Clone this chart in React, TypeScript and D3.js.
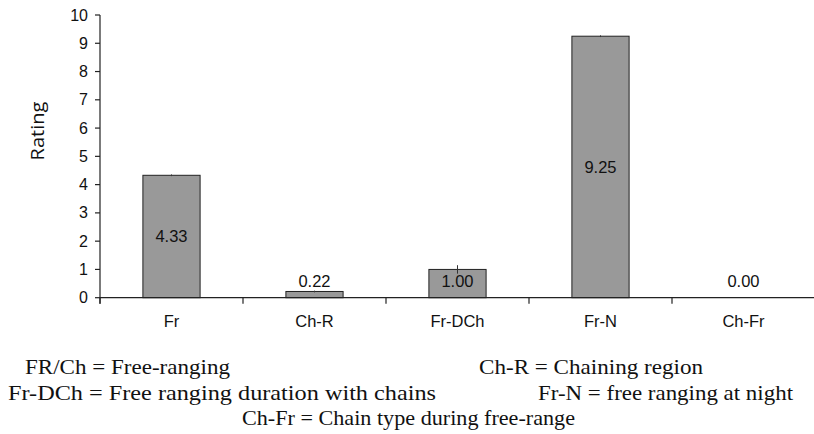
import React from "react";
import * as d3 from "d3";

const categories = ["Fr", "Ch-R", "Fr-DCh", "Fr-N", "Ch-Fr"];
const values = [4.33, 0.22, 1.0, 9.25, 0.0];
const errors = [0.03, 0.03, 0.15, 0.03, 0.02];
const valueLabels = ["4.33", "0.22", "1.00", "9.25", "0.00"];
const yTicks = [0, 1, 2, 3, 4, 5, 6, 7, 8, 9, 10];
const yAxisTitle = "Rating";
const notes = [
  { text: "FR/Ch = Free-ranging", x: 25, w: 205, row: 0 },
  { text: "Ch-R = Chaining region", x: 479, w: 224, row: 0 },
  { text: "Fr-DCh = Free ranging duration with chains", x: 8, w: 428, row: 1 },
  { text: "Fr-N = free ranging at night", x: 538, w: 255, row: 1 },
  { text: "Ch-Fr = Chain type during free-range", x: 242, w: 333, row: 2 },
];

const W = 814;
const H = 434;
const x0 = 100;
const x1 = 815;
const yBase = 297.7;
const yTop = 15;

export default function App() {
  const x = d3.scaleBand<string>().domain(categories).range([x0, x1]).padding(0);
  const y = d3.scaleLinear().domain([0, 10]).range([yBase, yTop]);
  const bw = x.bandwidth() * 0.4;
  const sans = "'Liberation Sans', Arial, sans-serif";
  const serif = "'Liberation Serif', 'Times New Roman', serif";
  const boundaries = categories.map((c) => x(c) as number);

  return (
    <svg
      width={W}
      height={H}
      style={{ position: "absolute", left: 0, top: 0, background: "#fff" }}
    >
      {/* bars */}
      {categories.map((c, i) => {
        const cx = (x(c) as number) + x.bandwidth() / 2;
        const yv = y(values[i]);
        return (
          <g key={c}>
            {values[i] > 0 && (
              <rect
                x={cx - bw / 2}
                y={yv}
                width={bw}
                height={yBase - yv}
                fill="#999999"
                stroke="#222"
                strokeWidth={1}
              />
            )}
            <line
              x1={cx}
              x2={cx}
              y1={y(values[i] + errors[i])}
              y2={y(Math.max(0, values[i] - errors[i]))}
              stroke="#333"
              strokeWidth={1}
            />
          </g>
        );
      })}
      {/* data labels */}
      {categories.map((c, i) => {
        const cx = (x(c) as number) + x.bandwidth() / 2;
        const mid = (y(values[i]) + yBase) / 2;
        const ly = Math.min(mid, y(0.6));
        return (
          <text
            key={"l" + c}
            x={cx}
            y={ly}
            dy="0.35em"
            textAnchor="middle"
            fontFamily={sans}
            fontSize={16.5}
            fill="#111"
          >
            {valueLabels[i]}
          </text>
        );
      })}
      {/* y axis */}
      <line x1={x0} x2={x0} y1={yTop} y2={yBase + 6} stroke="#222" strokeWidth={1.2} />
      {yTicks.map((t) => (
        <g key={"yt" + t}>
          <line x1={x0 - 5} x2={x0} y1={y(t)} y2={y(t)} stroke="#222" strokeWidth={1.2} />
          <text
            x={x0 - 12}
            y={y(t)}
            dy="0.35em"
            textAnchor="end"
            fontFamily={sans}
            fontSize={16}
            fill="#111"
          >
            {t}
          </text>
        </g>
      ))}
      {/* x axis */}
      <line x1={x0} x2={x1} y1={yBase} y2={yBase} stroke="#222" strokeWidth={1.2} />
      {boundaries.map((b, i) => (
        <line key={"xt" + i} x1={b} x2={b} y1={yBase} y2={yBase + 6} stroke="#222" strokeWidth={1.2} />
      ))}
      {categories.map((c) => (
        <text
          key={"xl" + c}
          x={(x(c) as number) + x.bandwidth() / 2}
          y={327}
          textAnchor="middle"
          fontFamily={sans}
          fontSize={16.5}
          fill="#111"
        >
          {c}
        </text>
      ))}
      {/* y title */}
      <text
        transform={`translate(44,131) rotate(-90)`}
        textAnchor="middle"
        fontFamily="'Open Sans', 'Noto Sans', sans-serif"
        fontSize={18}
        fill="#111"
        textLength={59}
        lengthAdjust="spacingAndGlyphs"
      >
        {yAxisTitle}
      </text>
      {/* notes */}
      {notes.map((n) => (
        <text
          key={n.text}
          x={n.x}
          y={374 + n.row * 25.5}
          fontFamily={serif}
          fontSize={22}
          fill="#111"
          textLength={n.w}
          lengthAdjust="spacingAndGlyphs"
        >
          {n.text}
        </text>
      ))}
    </svg>
  );
}
